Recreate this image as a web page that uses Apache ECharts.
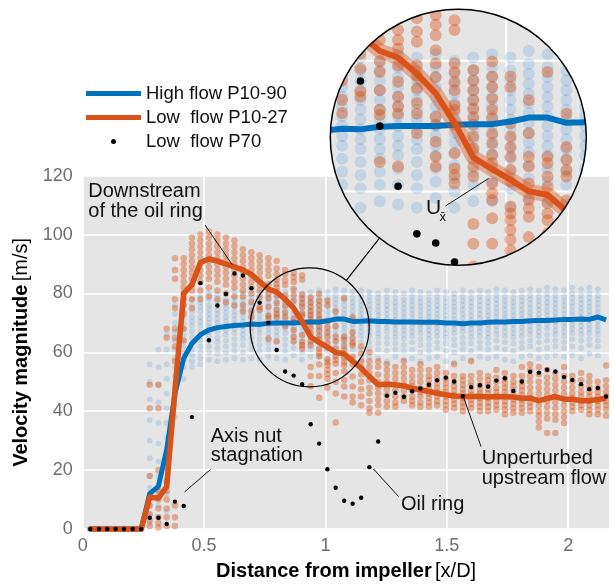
<!DOCTYPE html>
<html><head><meta charset="utf-8">
<script src="https://cdn.jsdelivr.net/npm/echarts@6/dist/echarts.min.js"></script>
<style>html,body{margin:0;padding:0;background:#fff}#c{width:614px;height:584px}</style>
</head><body><div id="c"></div>
<script>
// ---------------- DATA ----------------
const xPositions = [0.031,0.067,0.101,0.136,0.170,0.206,0.241,0.276,0.312,0.346,0.380,0.416,0.450,0.485,0.520,0.555,0.590,0.625,0.660,0.695,0.729,0.765,0.799,0.834,0.869,0.904,0.939,0.974,1.008,1.042,1.077,1.112,1.147,1.181,1.217,1.253,1.288,1.323,1.357,1.391,1.426,1.460,1.496,1.530,1.566,1.600,1.636,1.670,1.704,1.739,1.774,1.809,1.843,1.879,1.913,1.947,1.983,2.017,2.053,2.087,2.122,2.156];

const highFlowP10_90 = [0,0,0,0,0,0,0,12,14.5,27,46,58,63,66,67.6,68.4,68.8,69.1,69.3,69.6,69.5,69.9,70,70,70,70.2,70.3,70.3,70.7,71.3,71.3,70.5,70.6,70.7,70.5,70.5,70.3,70.3,70.3,70.2,70.2,70.2,70,70,69.7,70,70,70.2,70.3,70.3,70.5,70.5,70.7,70.8,70.8,71,71.2,71.2,71.3,71.2,72,71];

const lowFlowP10_27 = [0,0,0,0,0,0,0,10.8,10.5,14.4,47,80,83,90.5,91.7,91,90,89,88,86.5,84,81.5,80.5,78,75,70.5,65.2,63.4,61.8,60,59.5,57,54.6,51.8,49,49.2,49,48.6,47.8,47.3,46.7,46.1,45.6,45.2,45,45,45.1,44.8,45,44.9,44.8,44.4,44.4,43.6,44.3,45,44.1,44.1,43.6,43.6,44,44.4];

const lowFlowP70 = [0,0,0,0,0,0,0,3.8,3.8,1.7,9.3,7.8,38.0,83.5,64.1,75.9,79.8,86.8,86.1,81.8,76.9,70.0,60.8,53.5,52.1,49.2,35.6,29.0,20.3,14.0,9.6,8.6,10.6,21.0,29.7,45.3,46.3,44.9,46.8,47.7,49.0,50.5,51.4,50.1,45.1,48.2,48.8,48.4,50.4,51.2,46.9,50.1,53.4,53.1,54.1,53.5,51.6,50.6,49.2,47.5,47.9,45.0];

// individual probe values per x-station (high flow cloud)
const highFlowCloud = [
[0],[0],[0],[0],[0],[0],[0],
[56,50,44,37,30,24,18,14,11,8,5,2],
[61,55,49,43,36,29,23,18,15,12,8,4],
[66,61,56,51,46,41,36,31,27,22,17,12,6],
[76,73,70,67,64,61,58,55,52,48,45,42,38],
[78,76,74,72,70,68,66,64,62,60,57.5,55,51],
[78,76,74,72,70.5,69,67,65,63,61,59,57,55],
[79,77,75.5,74,72,70.5,69,67,65.5,64,62,60,58,56],
[80,78,76,74.5,73,71.5,70,68.5,67,65.5,64,62,60,57.5],
[79.5,77.5,76,74.5,73,71.5,70,68.5,67,65,63.5,61.5,59.5,57],
[80,78,76.5,75,73.5,72,70.5,69,67.5,66,64,62,60,57.5],
[80.5,78.5,77,75.5,74,72.5,71,69.5,68,66.5,64.5,62.5,60.5,58],
[80,78,76.5,75,73.5,72,70.5,69,67.5,66,64.5,62.5,60,57.5],
[81,79,77.5,76,74.5,73,71.5,70,68.5,67,65,63,61,58],
[80.5,78.5,77,75.5,74,72.5,71,69.5,68,66.5,64.5,62.5,60.5,57.5],
[80,78.5,77,75.5,74,72.5,71,69.5,68,66.5,65,63,61,58.5],
[81,79,77.5,76,74.5,73,71.5,70,68.5,67,65.5,63.5,61,58],
[80.5,78.5,77,75.5,74,72.5,71,69.5,68,66.5,64.5,62.5,60.5,57.5],
[81,79,77.5,76,74.5,73,71.5,70,68.5,67,65.5,63.5,61.5,59],
[80,78,76.5,75,73.5,72,70.5,69,67.5,66,64,62,60,57.5],
[80.5,78.5,77,75.5,74,72.5,71,69.5,68,66.5,65,63,61,58.5],
[81,79,77.5,76,74.5,73,71.5,70,68.5,67,65.5,63.5,61.5,58.5],
[80.5,78.5,77,75.5,74,72.5,71,69.5,68,66.5,65,63,60.5,57.5],
[81.5,79.5,78,76.5,75,73.5,72,70.5,69,67.5,66,64,62,59],
[81,79,77.5,76,74.5,73,71.5,70,68.5,67,65.5,63.5,61.5,58.5],
[80.5,78.5,77,75.5,74,72.5,71,69.5,68,66.5,65,63,61,58],
[81,79,77.5,76,74.5,73,71.5,70,68.5,67,65.5,63.5,61,57.5],
[80.5,79,77.5,76,74.5,73,71.5,70,68.5,67,65.5,63.5,61.5,58.5],
[80,78.5,77,75.5,74,72.5,71,69.5,68,66.5,65,63,61,58],
[81,79,77.5,76,74.5,73,71.5,70,68.5,67,65,63,60.5,57],
[80.5,78.5,77,75.5,74,72.5,71,69.5,68,66.5,65,63,61,58.5],
[80,78,76.5,75,73.5,72,70.5,69,67.5,66,64.5,62.5,60.5,57.5],
[81,79,77.5,76,74.5,73,71.5,70,68.5,67,65.5,63.5,61,58],
[80.5,78.5,77,75.5,74,72.5,71,69.5,68,66.5,64.5,62.5,60,57],
[80,78,76.5,75,73.5,72,70.5,69,67.5,66,64.5,62.5,60.5,58],
[81,79,77.5,76,74.5,73,71.5,70,68.5,67,65.5,63.5,61.5,58.5],
[80.5,78.5,77,75.5,74,72.5,71,69.5,68,66.5,65,63,60.5,57],
[80,78.5,77,75.5,74,72.5,71,69.5,68,66.5,64.5,62.5,60,56.5],
[81,79,77.5,76,74.5,73,71.5,70,68.5,67,65,63,61,58],
[80.5,78.5,77,75.5,74,72.5,71,69.5,68,66.5,65,63,60.5,57.5],
[81,79,77.5,76,74.5,73,71.5,70,68.5,67,65.5,63.5,61.5,58.5],
[80.5,78.5,77,75.5,74,72.5,71,69.5,68,66.5,65,63,61,58],
[81.5,79.5,78,76.5,75,73.5,72,70.5,69,67.5,66,64,61.5,58.5],
[81,79,77.5,76,74.5,73,71.5,70,68.5,67,65.5,63.5,61,57.5],
[80.5,78.5,77,75.5,74,72.5,71,69.5,68,66.5,65,63,60.5,57],
[81,79,77.5,76,74.5,73,71.5,70,68.5,67,65.5,63.5,61.5,58.5],
[81.5,79.5,78,76.5,75,73.5,72,70.5,69,67.5,66,64,62,59],
[81,79,77.5,76,74.5,73,71.5,70,68.5,67,65.5,63.5,61,58],
[82,80,78.5,77,75.5,74,72.5,71,69.5,68,66,64,61.5,58.5],
[81.5,79.5,78,76.5,75,73.5,72,70.5,69,67.5,66,64,62,59],
[81,79,77.5,76,74.5,73,71.5,70,68.5,67,65.5,63.5,61.5,58.5],
[82,80,78.5,77,75.5,74,72.5,71,69.5,68,66.5,64.5,62,59],
[81.5,79.5,78,76.5,75,73.5,72,70.5,69,67.5,66,64,61.5,58],
[82,80,78.5,77,75.5,74,72.5,71,69.5,68,66.5,64.5,62.5,59.5],
[81.5,79.5,78,76.5,75,73.5,72,70.5,69,67.5,66,64,62,59]
];

// individual probe values per x-station (low flow cloud)
const lowFlowCloud = [
[0],[0],[0],[0],[0],[0],[0],
[49,41,18,11,8,5,3,1],
[49,41,20,13,10,7,4,2,0.5],
[68,65,21,16,13,10,7,4,1],
[92,88,85,78,75,68,65,62,57,8,4,1],
[92,90,88,86,84,82,80,78,76,73,68,64],
[99,97,95,93,91,89,87,85,83,81,78,75],
[100,98,96,94,92,90,88,86,84,81,78],
[101,99,97,95,93,91,89,87,85,82,79],
[100,98,96,94,92,90,88,86,84,81,78],
[99,97,95,93,91,89,87,85,83,80,77],
[98,96,94,92,90,88,86,84,82,79,76],
[95,93,91,89,87,85,83,81,79,76,74],
[94,92,90,88,86,84,82,80,77,74,72],
[93,91,89,87,85,83,81.1,78.8,75.3,74.5],
[92,90,88,86,83.2,79.9,78.3,75.5,72.5,71.7,64.5],
[91,88.5,86.5,84.7,83.2,81.9,79.3,76.8,74.5,73,71.9,63.8],
[88,86.5,84.5,82.9,79.3,77.8,75.8,73.5,71.9,68.9],
[87,85.5,83.9,81.6,79.6,77.5,71.4,70.2,67.6,65.3,63.8],
[86.2,84.7,79.6,78.3,76.8,75.5,73.2,72.5,70.2,65.8,63.5,62.5,61.2],
[78.6,77,75.5,74,72.7,71.4,70.2,68.4,66.6,63.8,62.3,55,52,48.5],
[79.9,77.6,76,74.2,72.5,71.2,68.9,67.4,65.6,64.3,61.2,59.7,58.7,55.9,52,44.6],
[77.6,76,70.4,68.4,66.8,65.3,63.3,61.5,57.7,56.6,55.6,54.1,52.6,51,48],
[74,68.9,65.3,63.8,61.2,58.7,57.4,56.1,53,50,46,36.2],
[78.3,65.3,64.3,62.3,60.7,58.2,56.6,55.6,53.6,50.6,48.4,45],
[71.9,66.8,64.8,63.3,62.3,58.6,56,51.8,48.4,45,43],
[62,59.5,57,55,52.5,50,47.5,45,42],
[60,57,55,53,50.5,48,46,43.5,41,39.5],
[57,55,52.5,50,48,46,44,42,39.5],
[56,54,52,50,47.5,45.5,43.5,41.5],
[55,53,51,49,47,45,43,41.5],
[57,55,53,51,49,47,45,43.5],
[54,52,50,48.5,47,45,43.5,42],
[56,54,52,50,48,46.5,45,43,41.5],
[54,52,50.5,49,47.5,46,44.5,43,41.5],
[55,53,51,49.5,48,46.5,45,43.5,42],
[53,51,49.5,48,46.5,45,43.5,42,40.5],
[56,52,50,48.5,47,45.5,44,42.5,41],
[52,50.5,49,47.5,46,44.5,43,41.5,40],
[57,52,50,48.5,47,45.5,44,42.5,41],
[53,51,49,47.5,46,44.5,43,41.5,40],
[52,50.5,49,47.5,46,44.5,43,41.5,40],
[54,51.5,50,48,46.5,45,43.5,42,40.5],
[53,51,49.5,48,46.5,45,43.5,42,40.5,39],
[52,50,48.5,47,45.5,44,42.5,41,39.5],
[55,52,50,48.5,47,45.5,44,42.5,41,39.5],
[56,54,52,50,48,46,44.5,43,41.5,40],
[55,52.5,50,48,46,44,42,40,38.5,36.5,34.5],
[54,51.5,49.5,47.5,45.5,43.5,41.5,39.5,37.5,32.6],
[53,51,49,47,45,43,41,39,37,32.6],
[55,52,50,48,46,44,42,40,38,36],
[52,50,48,46,44.5,43,41.5,40],
[53,50.5,48.5,46.5,45,43.5,42,40.5],
[52,50,48,46.5,45,43.5,42,40.5,39],
[50,48,46.5,45,43.5,42,40.5,39],
[55.5,50.5,48.5,46.5,45,43.5,42,40.5,38.5]
];

const xTicks = [0, 0.5, 1, 1.5, 2];
const yTicks = [0, 20, 40, 60, 80, 100, 120];
const insetXRange = [0.673, 1.149];   // magnified window
const insetYRange = [48.7, 87.9];
const zoomSpot = [0.935, 68.5];        // centre of the small circle

// ---------------- STYLE ----------------
const FONT = "'Liberation Sans', Arial, Helvetica, sans-serif";
const BLUE = '#0072bd', ORANGE = '#d95319';
const BLUE_DOT = 'rgba(0,110,200,0.15)', ORANGE_DOT = 'rgba(217,83,25,0.42)';
const INSET = {left: 330.3, top: 9.2, size: 256};
const SMALL_R = 59.5;

const pairs = arr => arr.map((v, i) => [xPositions[i], v]);
const cloudPairs = cloud => { const out = []; cloud.forEach((col, i) => col.forEach(v => out.push([xPositions[i], v]))); return out; };
const isTick = (v, arr) => arr.some(t => Math.abs(t - v) < 1e-6);

function renderInset(params, api) {
  if (params.dataIndex !== 0) return;
  const cs = params.coordSys;
  const cx = cs.x + cs.width / 2, cy = cs.y + cs.height / 2, r = cs.width / 2;
  const kids = [];
  kids.push({type: 'circle', shape: {cx, cy, r}, style: {fill: '#e5e5e5'}});
  const near = p => Math.hypot(p[0] - cx, p[1] - cy) < r + 12;
  xTicks.forEach(t => {
    if (t > insetXRange[0] && t < insetXRange[1]) {
      const a = api.coord([t, insetYRange[0]]), b = api.coord([t, insetYRange[1]]);
      kids.push({type: 'line', shape: {x1: a[0], y1: a[1], x2: b[0], y2: b[1]}, style: {stroke: '#fff', lineWidth: 2}});
    }
  });
  yTicks.forEach(t => {
    if (t > insetYRange[0] && t < insetYRange[1]) {
      const a = api.coord([insetXRange[0], t]), b = api.coord([insetXRange[1], t]);
      kids.push({type: 'line', shape: {x1: a[0], y1: a[1], x2: b[0], y2: b[1]}, style: {stroke: '#fff', lineWidth: 2}});
    }
  });
  cloudPairs(highFlowCloud).forEach(d => { const p = api.coord(d); if (near(p)) kids.push({type: 'circle', shape: {cx: p[0], cy: p[1], r: 6}, style: {fill: BLUE_DOT}}); });
  cloudPairs(lowFlowCloud).forEach(d => { const p = api.coord(d); if (near(p)) kids.push({type: 'circle', shape: {cx: p[0], cy: p[1], r: 6}, style: {fill: ORANGE_DOT}}); });
  const bl = pairs(highFlowP10_90).map(d => api.coord(d));
  kids.push({type: 'polyline', shape: {points: bl}, style: {stroke: BLUE, lineWidth: 6, fill: null, lineJoin: 'round'}});
  const ol = pairs(lowFlowP10_27).map(d => api.coord(d));
  kids.push({type: 'polyline', shape: {points: ol}, style: {stroke: 'rgba(217,83,25,0.4)', lineWidth: 15, fill: null, lineJoin: 'round'}});
  kids.push({type: 'polyline', shape: {points: ol}, style: {stroke: ORANGE, lineWidth: 6, fill: null, lineJoin: 'round'}});
  pairs(lowFlowP70).forEach(d => { const p = api.coord(d); if (near(p)) kids.push({type: 'circle', shape: {cx: p[0], cy: p[1], r: 3.8}, style: {fill: '#000'}}); });
  return {
    type: 'group',
    children: [
      {type: 'group', clipPath: {type: 'circle', shape: {cx, cy, r}}, children: kids},
      {type: 'circle', shape: {cx, cy, r}, style: {fill: 'none', stroke: '#000', lineWidth: 1.5}}
    ]
  };
}

function renderSpot(params, api) {
  const c = api.coord([api.value(0), api.value(1)]);
  const bx = INSET.left + INSET.size / 2, by = INSET.top + INSET.size / 2, R = INSET.size / 2;
  const dx = bx - c[0], dy = by - c[1], L = Math.hypot(dx, dy), ux = dx / L, uy = dy / L;
  return {
    type: 'group',
    children: [
      {type: 'circle', shape: {cx: c[0], cy: c[1], r: SMALL_R}, style: {fill: 'none', stroke: '#000', lineWidth: 1.2}},
      {type: 'line', shape: {x1: c[0] + ux * SMALL_R, y1: c[1] + uy * SMALL_R, x2: bx - ux * R, y2: by - uy * R}, style: {stroke: '#000', lineWidth: 1.2}}
    ]
  };
}

const chart = echarts.init(document.getElementById('c'), null, {renderer: 'canvas'});

const txt = (x, y, text, extra) => Object.assign({type: 'text', x, y, z: 100, style: Object.assign({text, font: '20px ' + FONT, fill: '#111', lineHeight: 20, align: 'left', verticalAlign: 'top', textAlign: 'left', textVerticalAlign: 'top'}, extra || {})});
const seg = (x1, y1, x2, y2) => ({type: 'line', z: 100, shape: {x1, y1, x2, y2}, style: {stroke: '#111', lineWidth: 1}});

const option = {
  animation: false,
  backgroundColor: '#fff',
  textStyle: {fontFamily: FONT},
  legend: {
    orient: 'vertical', left: 86, top: 84, padding: 0, itemWidth: 55, itemHeight: 5, itemGap: 5,
    textStyle: {fontSize: 18.5, color: '#111', fontFamily: FONT},
    data: [
      {name: 'High flow P10-90', icon: 'rect'},
      {name: 'Low  flow P10-27', icon: 'rect'},
      {name: 'Low  flow P70', icon: 'circle'}
    ],
    selectedMode: false
  },
  grid: [
    {left: 82.7, right: 4.5, top: 175.7, bottom: 55, show: true, backgroundColor: '#e5e5e5', borderWidth: 0, containLabel: false, outerBoundsMode: 'none'},
    {left: INSET.left, top: INSET.top, width: INSET.size, height: INSET.size, show: false, containLabel: false, outerBoundsMode: 'none'}
  ],
  xAxis: [
    {
      gridIndex: 0, type: 'value', min: 0, max: 2.17, interval: 0.5,
      axisLine: {show: false}, axisTick: {show: false},
      splitLine: {show: true, lineStyle: {color: '#fff', width: 1.6}},
      axisLabel: {color: '#6e6e6e', fontSize: 18, margin: 8, showMaxLabel: false, fontFamily: FONT,
        formatter: v => isTick(v, xTicks) ? String(v) : ''},
      name: '{b|Distance from impeller} {n|[x/D]}', nameLocation: 'middle', nameGap: 32,
      nameTextStyle: {color: '#000', rich: {b: {fontWeight: 'bold', fontSize: 20, fontFamily: FONT, color: '#000'}, n: {fontSize: 20, fontFamily: FONT, color: '#000'}}}
    },
    {gridIndex: 1, type: 'value', min: insetXRange[0], max: insetXRange[1], show: false, splitLine: {show: false}}
  ],
  yAxis: [
    {
      gridIndex: 0, type: 'value', min: 0, max: 120, interval: 20,
      axisLine: {show: false}, axisTick: {show: false},
      splitLine: {show: true, lineStyle: {color: '#fff', width: 1.6}},
      axisLabel: {color: '#6e6e6e', fontSize: 18, margin: 10, fontFamily: FONT},
      name: '{b|Velocity magnitude} {n|[m/s]}', nameLocation: 'middle', nameGap: 46, nameRotate: 90,
      nameTextStyle: {color: '#000', rich: {b: {fontWeight: 'bold', fontSize: 20, fontFamily: FONT, color: '#000'}, n: {fontSize: 20, fontFamily: FONT, color: '#000'}}}
    },
    {gridIndex: 1, type: 'value', min: insetYRange[0], max: insetYRange[1], show: false, splitLine: {show: false}}
  ],
  series: [
    {name: 'High flow cloud', type: 'scatter', xAxisIndex: 0, yAxisIndex: 0, z: 2, symbolSize: 5.8, clip: false, silent: true,
      itemStyle: {color: BLUE_DOT, opacity: 1}, data: cloudPairs(highFlowCloud)},
    {name: 'Low flow cloud', type: 'scatter', xAxisIndex: 0, yAxisIndex: 0, z: 3, symbolSize: 6.5, clip: false, silent: true,
      itemStyle: {color: ORANGE_DOT, opacity: 1}, data: cloudPairs(lowFlowCloud)},
    {name: 'High flow P10-90', type: 'line', xAxisIndex: 0, yAxisIndex: 0, z: 4, symbol: 'none', clip: false, silent: true,
      color: BLUE, lineStyle: {color: BLUE, width: 5, join: 'round'}, data: pairs(highFlowP10_90)},
    {name: 'Low  flow P10-27', type: 'line', xAxisIndex: 0, yAxisIndex: 0, z: 5, symbol: 'none', clip: false, silent: true,
      color: ORANGE, lineStyle: {color: ORANGE, width: 5.5, join: 'round'}, data: pairs(lowFlowP10_27)},
    {name: 'Low  flow P70', type: 'scatter', xAxisIndex: 0, yAxisIndex: 0, z: 6, symbolSize: 4.4, clip: false, silent: true,
      color: '#000', itemStyle: {color: '#000', opacity: 1}, data: pairs(lowFlowP70)},
    {name: 'zoom spot', type: 'custom', xAxisIndex: 0, yAxisIndex: 0, z: 7, silent: true, renderItem: renderSpot, data: [zoomSpot]},
    {name: 'inset', type: 'custom', xAxisIndex: 1, yAxisIndex: 1, z: 10, silent: true, renderItem: renderInset, data: [[insetXRange[0], insetYRange[0]]]}
  ],
  graphic: [
    txt(88.3, 181.7, 'Downstream\nof the oil ring'),
    seg(205, 225, 232.5, 265),
    txt(210.7, 426.5, 'Axis nut\nstagnation', {lineHeight: 19.5}),
    seg(210.5, 469.5, 184.5, 492),
    txt(401, 494, 'Oil ring'),
    seg(398.5, 496.5, 373.5, 469),
    txt(481.7, 448, 'Unperturbed\nupstream flow', {lineHeight: 20.5}),
    seg(481, 446.5, 464, 398.5),
    txt(426, 198, 'U', {font: '21px ' + FONT, lineHeight: 21}),
    txt(439.5, 211, 'x\u0304', {font: '13px ' + FONT, lineHeight: 13}),
    seg(445.5, 206, 488.5, 178.5)
  ]
};
chart.setOption(option);
</script>
</body></html>
